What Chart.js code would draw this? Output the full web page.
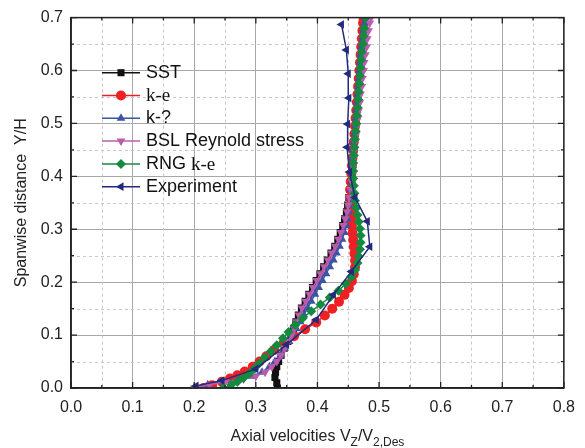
<!DOCTYPE html>
<html>
<head>
<meta charset="utf-8">
<script src="https://cdn.jsdelivr.net/npm/chart.js@4.4.0/dist/chart.umd.min.js"></script>
<style>
html, body { margin: 0; padding: 0; background: #fff; }
#wrap { width: 585px; height: 448px; position: relative; }
</style>
</head>
<body>
<div id="wrap"><canvas id="chart"></canvas></div>
<script>
const labels = ['SST', 'k-e', 'k-?', 'BSL Reynold stress', 'RNG k-e', 'Experiment'];
const xTicks = [0.0, 0.1, 0.2, 0.3, 0.4, 0.5, 0.6, 0.7, 0.8];
const yTicks = [0.0, 0.1, 0.2, 0.3, 0.4, 0.5, 0.6, 0.7];

// SST
const ySST = [0.000, 0.010, 0.020, 0.030, 0.040, 0.050, 0.062, 0.075, 0.088, 0.100, 0.112, 0.125, 0.138, 0.151, 0.164, 0.177, 0.190, 0.203, 0.216, 0.229, 0.242, 0.255, 0.268, 0.281, 0.294, 0.307, 0.320, 0.333, 0.346, 0.360, 0.375, 0.390, 0.405, 0.420, 0.435, 0.450, 0.465, 0.480, 0.495, 0.510, 0.525, 0.540, 0.555, 0.570, 0.585, 0.600, 0.615, 0.630, 0.645, 0.660, 0.675, 0.690, 0.700];
const xSST = [0.335, 0.334, 0.331, 0.332, 0.334, 0.337, 0.341, 0.346, 0.352, 0.357, 0.361, 0.365, 0.369, 0.374, 0.380, 0.386, 0.392, 0.398, 0.404, 0.410, 0.416, 0.422, 0.428, 0.433, 0.437, 0.441, 0.444, 0.447, 0.449, 0.451, 0.453, 0.455, 0.456, 0.457, 0.458, 0.459, 0.460, 0.461, 0.462, 0.463, 0.464, 0.465, 0.466, 0.467, 0.468, 0.469, 0.470, 0.471, 0.472, 0.473, 0.474, 0.476, 0.477];

// k-e
const yKE = [0.000, 0.005, 0.012, 0.018, 0.024, 0.031, 0.040, 0.050, 0.060, 0.072, 0.085, 0.098, 0.111, 0.124, 0.137, 0.150, 0.163, 0.176, 0.189, 0.202, 0.215, 0.228, 0.241, 0.254, 0.267, 0.280, 0.293, 0.306, 0.319, 0.332, 0.345, 0.360, 0.375, 0.390, 0.405, 0.420, 0.435, 0.450, 0.465, 0.480, 0.495, 0.510, 0.525, 0.540, 0.555, 0.570, 0.585, 0.600, 0.615, 0.630, 0.645, 0.660, 0.675, 0.690, 0.700];
const xKE = [0.215, 0.229, 0.245, 0.258, 0.270, 0.282, 0.295, 0.306, 0.317, 0.330, 0.345, 0.362, 0.380, 0.398, 0.412, 0.424, 0.435, 0.444, 0.451, 0.456, 0.459, 0.461, 0.461, 0.460, 0.459, 0.458, 0.457, 0.456, 0.455, 0.454, 0.453, 0.453, 0.453, 0.454, 0.455, 0.456, 0.457, 0.458, 0.459, 0.460, 0.461, 0.462, 0.463, 0.464, 0.465, 0.466, 0.467, 0.468, 0.469, 0.470, 0.471, 0.472, 0.473, 0.474, 0.475];

// k-?
const yKW = [0.000, 0.006, 0.012, 0.017, 0.022, 0.030, 0.040, 0.050, 0.062, 0.075, 0.088, 0.100, 0.112, 0.125, 0.138, 0.151, 0.164, 0.177, 0.190, 0.203, 0.216, 0.229, 0.242, 0.255, 0.268, 0.281, 0.294, 0.307, 0.320, 0.333, 0.346, 0.360, 0.375, 0.390, 0.405, 0.420, 0.435, 0.450, 0.465, 0.480, 0.495, 0.510, 0.525, 0.540, 0.555, 0.570, 0.585, 0.600, 0.615, 0.630, 0.645, 0.660, 0.675, 0.690, 0.700];
const xKW = [0.200, 0.222, 0.245, 0.272, 0.292, 0.310, 0.322, 0.331, 0.340, 0.347, 0.354, 0.360, 0.366, 0.372, 0.378, 0.384, 0.390, 0.396, 0.402, 0.408, 0.414, 0.420, 0.426, 0.431, 0.436, 0.440, 0.444, 0.447, 0.449, 0.451, 0.452, 0.453, 0.454, 0.455, 0.456, 0.457, 0.457, 0.458, 0.459, 0.460, 0.461, 0.462, 0.463, 0.464, 0.465, 0.466, 0.467, 0.468, 0.469, 0.470, 0.471, 0.473, 0.474, 0.476, 0.477];

// BSL Reynold stress
const yBSL = [0.000, 0.006, 0.012, 0.017, 0.022, 0.030, 0.040, 0.050, 0.062, 0.075, 0.088, 0.100, 0.112, 0.125, 0.138, 0.151, 0.164, 0.177, 0.190, 0.203, 0.216, 0.229, 0.242, 0.255, 0.268, 0.281, 0.294, 0.307, 0.320, 0.333, 0.346, 0.360, 0.375, 0.390, 0.405, 0.420, 0.435, 0.450, 0.465, 0.480, 0.495, 0.510, 0.525, 0.540, 0.555, 0.570, 0.585, 0.600, 0.615, 0.630, 0.645, 0.660, 0.675, 0.690, 0.700];
const xBSL = [0.200, 0.225, 0.250, 0.280, 0.300, 0.315, 0.326, 0.334, 0.341, 0.347, 0.353, 0.358, 0.362, 0.366, 0.370, 0.375, 0.381, 0.387, 0.393, 0.399, 0.405, 0.411, 0.417, 0.423, 0.429, 0.434, 0.438, 0.442, 0.445, 0.448, 0.450, 0.452, 0.454, 0.456, 0.457, 0.458, 0.459, 0.460, 0.461, 0.463, 0.464, 0.466, 0.467, 0.469, 0.470, 0.472, 0.473, 0.475, 0.476, 0.478, 0.480, 0.481, 0.483, 0.485, 0.487];

// RNG k-e
const yRNG = [0.000, 0.006, 0.012, 0.019, 0.027, 0.036, 0.046, 0.057, 0.069, 0.081, 0.094, 0.106, 0.119, 0.132, 0.145, 0.158, 0.171, 0.184, 0.197, 0.210, 0.223, 0.236, 0.249, 0.262, 0.275, 0.288, 0.301, 0.314, 0.327, 0.340, 0.354, 0.368, 0.382, 0.396, 0.410, 0.425, 0.440, 0.455, 0.470, 0.485, 0.500, 0.515, 0.530, 0.545, 0.560, 0.575, 0.590, 0.605, 0.620, 0.635, 0.650, 0.665, 0.680, 0.700];
const xRNG = [0.247, 0.260, 0.270, 0.280, 0.289, 0.297, 0.305, 0.314, 0.324, 0.334, 0.344, 0.353, 0.364, 0.376, 0.390, 0.405, 0.420, 0.434, 0.446, 0.455, 0.461, 0.465, 0.467, 0.469, 0.470, 0.470, 0.469, 0.467, 0.465, 0.463, 0.461, 0.460, 0.459, 0.458, 0.458, 0.458, 0.459, 0.460, 0.461, 0.462, 0.463, 0.464, 0.465, 0.466, 0.467, 0.468, 0.469, 0.470, 0.471, 0.472, 0.474, 0.475, 0.476, 0.478];

// Experiment
const yExp = [0.004, 0.014, 0.036, 0.082, 0.129, 0.176, 0.220, 0.267, 0.315, 0.360, 0.408, 0.455, 0.499, 0.548, 0.594, 0.639, 0.687];
const xExp = [0.203, 0.245, 0.300, 0.350, 0.398, 0.426, 0.455, 0.485, 0.481, 0.461, 0.452, 0.448, 0.449, 0.451, 0.450, 0.447, 0.439];

const sans = '"Liberation Sans", Arial, sans-serif';
const serif = '"Liberation Serif", "Times New Roman", serif';

function pts(xs, ys) {
    return xs.map((v, i) => ({ x: v, y: ys[i] }));
}

function series(label, xs, ys, color, style, rotation, order) {
    return {
        label: label,
        data: pts(xs, ys),
        showLine: true,
        borderColor: color,
        backgroundColor: color,
        borderWidth: 1.5,
        pointStyle: style,
        pointRotation: rotation,
        pointRadius: 5,
        pointBorderWidth: 0,
        pointBackgroundColor: color,
        order: order
    };
}

const datasets = [
    series(labels[0], xSST, ySST, '#111111', 'rect', 0, 5),
    series(labels[1], xKE, yKE, '#ee2024', 'circle', 0, 4),
    series(labels[2], xKW, yKW, '#3a55a6', 'triangle', 0, 3),
    series(labels[3], xBSL, yBSL, '#bb5bae', 'triangle', 180, 2),
    series(labels[4], xRNG, yRNG, '#138a3f', 'rectRot', 0, 1),
    series(labels[5], xExp, yExp, '#232a7c', 'triangle', -90, 0)
];

const framePlugin = {
    id: 'frame',
    beforeDatasetsDraw(chart) {
        const { ctx, chartArea: a, scales: { x, y } } = chart;
        ctx.save();
        ctx.strokeStyle = '#c8c8c8';
        ctx.lineWidth = 1;
        ctx.setLineDash([3, 3]);
        for (let i = 0; i < xTicks.length - 1; i++) {
            const px = Math.round(x.getPixelForValue((xTicks[i] + xTicks[i + 1]) / 2)) + 0.5;
            ctx.beginPath(); ctx.moveTo(px, a.top); ctx.lineTo(px, a.bottom); ctx.stroke();
        }
        for (let i = 0; i < yTicks.length - 1; i++) {
            const py = Math.round(y.getPixelForValue((yTicks[i] + yTicks[i + 1]) / 2)) + 0.5;
            ctx.beginPath(); ctx.moveTo(a.left, py); ctx.lineTo(a.right, py); ctx.stroke();
        }
        ctx.restore();
    },
    afterDatasetsDraw(chart) {
        const { ctx, chartArea: a, scales: { x, y } } = chart;
        ctx.save();
        ctx.strokeStyle = '#222';
        ctx.lineWidth = 1.5;
        ctx.strokeRect(a.left, a.top, a.right - a.left, a.bottom - a.top);
        ctx.lineWidth = 1.3;
        ctx.beginPath();
        xTicks.forEach((v, i) => {
            const px = x.getPixelForValue(v);
            ctx.moveTo(px, a.bottom); ctx.lineTo(px, a.bottom - 6);
            ctx.moveTo(px, a.top); ctx.lineTo(px, a.top + 6);
            if (i < xTicks.length - 1) {
                const mx = x.getPixelForValue((v + xTicks[i + 1]) / 2);
                ctx.moveTo(mx, a.bottom); ctx.lineTo(mx, a.bottom - 3);
                ctx.moveTo(mx, a.top); ctx.lineTo(mx, a.top + 3);
            }
        });
        yTicks.forEach((v, i) => {
            const py = y.getPixelForValue(v);
            ctx.moveTo(a.left, py); ctx.lineTo(a.left + 6, py);
            ctx.moveTo(a.right, py); ctx.lineTo(a.right - 6, py);
            if (i < yTicks.length - 1) {
                const my = y.getPixelForValue((v + yTicks[i + 1]) / 2);
                ctx.moveTo(a.left, my); ctx.lineTo(a.left + 3, my);
                ctx.moveTo(a.right, my); ctx.lineTo(a.right - 3, my);
            }
        });
        ctx.stroke();
        ctx.restore();
    },
    afterDraw(chart) {
        const { ctx, chartArea: a } = chart;
        ctx.save();

        // legend
        chart.data.datasets.forEach((ds, i) => {
            const cy = 72.7 + i * 22.8;
            ctx.strokeStyle = ds.borderColor;
            ctx.fillStyle = ds.borderColor;
            ctx.lineWidth = 1.5;
            ctx.beginPath(); ctx.moveTo(102, cy); ctx.lineTo(140, cy); ctx.stroke();
            Chart.helpers.drawPoint(ctx, { pointStyle: ds.pointStyle, radius: 5, rotation: ds.pointRotation, borderWidth: 0 }, 121, cy);
            ctx.fillStyle = '#111';
            ctx.textBaseline = 'middle';
            ctx.textAlign = 'left';
            let tx = 146;
            let txt = ds.label;
            let tail = '';
            if (txt.endsWith('k-e')) { tail = 'k-e'; txt = txt.slice(0, -3); }
            if (txt) {
                ctx.font = '18px ' + sans;
                ctx.fillText(txt, tx, cy);
                tx += ctx.measureText(txt).width;
            }
            if (tail) {
                ctx.font = '19px ' + serif;
                ctx.fillText(tail, tx, cy + 1);
            }
        });

        // x axis title with subscripts
        const parts = [
            ['Axial velocities V', 16, 0],
            ['Z', 12, 5],
            ['/V', 16, 0],
            ['2,Des', 12, 5]
        ];
        let total = 0;
        parts.forEach(p => { ctx.font = p[1] + 'px ' + sans; total += ctx.measureText(p[0]).width; });
        let sx = (a.left + a.right) / 2 - total / 2;
        ctx.fillStyle = '#222';
        ctx.textBaseline = 'alphabetic';
        parts.forEach(p => {
            ctx.font = p[1] + 'px ' + sans;
            ctx.fillText(p[0], sx, 441 + p[2]);
            sx += ctx.measureText(p[0]).width;
        });
        ctx.restore();
    }
};

new Chart(document.getElementById('chart'), {
    type: 'scatter',
    data: { datasets: datasets },
    plugins: [framePlugin],
    options: {
        responsive: true,
        maintainAspectRatio: false,
        animation: false,
        layout: { padding: { top: 17, right: 18, left: 0, bottom: 0 } },
        elements: { line: { tension: 0 } },
        plugins: {
            legend: { display: false },
            tooltip: { enabled: false }
        },
        scales: {
            x: {
                type: 'linear',
                min: 0,
                max: 0.8,
                afterFit(s) { s.height = 60; },
                afterBuildTicks(s) { s.ticks = xTicks.map(v => ({ value: v })); },
                ticks: {
                    callback: v => v.toFixed(1),
                    color: '#222',
                    font: { size: 16, family: sans },
                    padding: 10,
                    maxRotation: 0
                },
                grid: { color: '#a8a8a8', lineWidth: 1, drawTicks: false },
                border: { display: true, color: '#222', width: 1.5 }
            },
            y: {
                type: 'linear',
                min: 0,
                max: 0.7,
                afterFit(s) { s.width = 71; },
                afterBuildTicks(s) { s.ticks = yTicks.map(v => ({ value: v })); },
                ticks: {
                    callback: v => v.toFixed(1),
                    color: '#222',
                    font: { size: 16, family: sans },
                    padding: 8
                },
                grid: { color: '#a8a8a8', lineWidth: 1, drawTicks: false },
                border: { display: true, color: '#222', width: 1.5 },
                title: {
                    display: true,
                    text: 'Spanwise distance  Y/H',
                    color: '#222',
                    font: { size: 16, family: sans },
                    padding: { top: 12, bottom: 0 }
                }
            }
        }
    }
});
</script>
</body>
</html>
